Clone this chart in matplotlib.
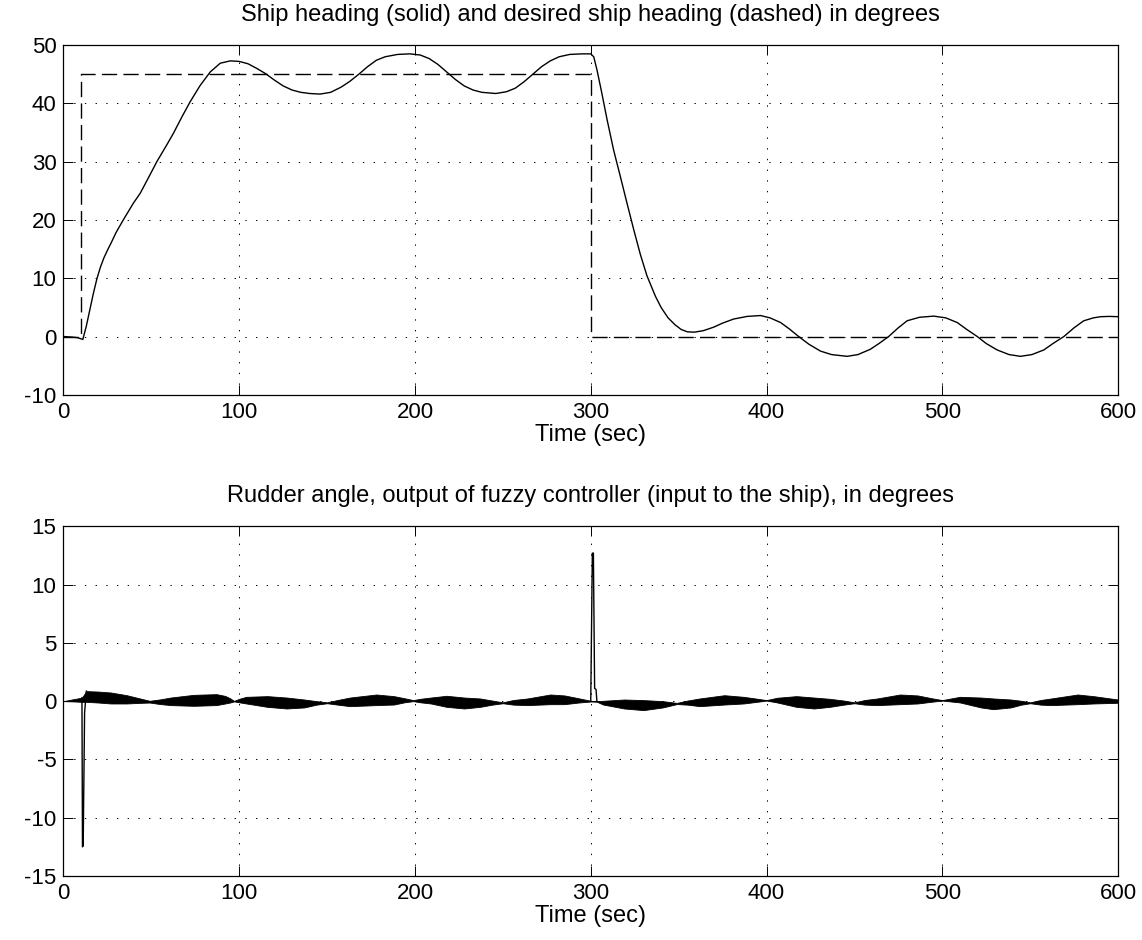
import matplotlib.pyplot as plt

plt.rcParams['font.family'] = ['Liberation Sans', 'DejaVu Sans']
plt.rcParams['axes.unicode_minus'] = False

# ship heading (deg)
heading_t = [0, 5, 8, 11, 13, 15, 17, 19, 21, 23, 25, 27, 30, 34.2, 39.8, 43.7, 49.3, 53.1,
             58.8, 62.6, 67.4, 72.1, 77.8, 83.5, 89.2, 95, 100, 105, 110, 115, 120, 125, 130, 135, 140, 146,
             152, 158, 163, 168, 173, 178, 183, 190, 197, 203, 208, 213, 218, 223, 228, 233, 238, 246, 252,
             257, 262, 267, 272, 277, 282, 288, 295, 300, 301.7, 303.5, 306, 309.3, 313, 316.8, 320.6, 324.4,
             328.2, 332, 336.8, 340, 344, 348, 351.5, 355, 359, 364, 369.9, 375, 381.3, 389, 396.6, 402, 408,
             413, 418.3, 424, 430.7, 437, 445.9, 452, 459, 464, 469.5, 475, 480, 487, 495.2, 502, 508.5, 514,
             519.9, 525, 531.2, 538, 544.5, 551, 557.8, 563, 569.2, 575, 580.5, 586, 590.1, 595, 600]
heading = [0, -0.1, -0.2, -0.5, 1.8, 4.6, 7.4, 9.9, 11.9, 13.5, 14.8, 16.0, 17.9, 20.1, 22.9, 24.6,
           27.8, 30.0, 32.9, 34.9, 37.7, 40.3, 43.1, 45.4, 46.9, 47.3, 47.2, 46.8, 46.0, 45.1, 44.0, 43.0, 42.3,
           41.9, 41.7, 41.6, 41.9, 42.8, 43.8, 45.0, 46.3, 47.4, 48.0, 48.4, 48.5, 48.3, 47.7, 46.7, 45.4, 44.1,
           43.0, 42.3, 41.9, 41.7, 42.0, 42.6, 43.7, 45.0, 46.3, 47.3, 48.0, 48.4, 48.5, 48.5, 48.0, 45.8,
           42.2, 37.2, 32.0, 27.5, 22.9, 18.4, 14.1, 10.4, 6.9, 5.0, 3.2, 2.0, 1.2, 0.8, 0.75, 1.0, 1.6, 2.3,
           3.0, 3.45, 3.6, 3.2, 2.4, 1.3, 0.0, -1.3, -2.5, -3.1, -3.4, -3.1, -2.2, -1.2, 0.0, 1.5, 2.7, 3.3,
           3.5, 3.2, 2.4, 1.2, 0.0, -1.2, -2.3, -3.1, -3.4, -3.1, -2.3, -1.2, 0.0, 1.5, 2.7, 3.2, 3.4, 3.45,
           3.4]

# desired heading (deg)
desired_t = [0, 10, 10, 300, 300, 600]
desired = [0, 0, 45, 45, 0, 0]

# rudder angle: envelope of the fast chattering band (deg)
band_t = [0, 5, 10.5, 13, 20, 27, 36, 43, 49, 55, 61, 74, 87, 92, 95, 97, 100, 104, 116, 127, 137, 144, 150,
          156, 163, 178, 188, 194, 199, 203, 209, 218, 228, 237, 244, 250, 256, 264, 277, 285, 293, 300,
          303.5, 307, 319, 330, 341, 349, 355, 362, 376, 387, 395, 400, 406, 417, 427, 436, 444, 450, 456,
          463, 476, 486, 494, 500, 510, 522, 529, 539, 545, 550, 556, 562, 577, 586, 600]
band_hi = [0.0, 0.15, 0.3, 0.86, 0.82, 0.74, 0.51, 0.25, 0.03, 0.15, 0.31, 0.54, 0.6, 0.45, 0.23, 0.02, 0.2,
           0.37, 0.43, 0.31, 0.14, 0.0, -0.1, 0.1, 0.31, 0.57, 0.43, 0.25, 0.09, 0.2, 0.31, 0.46, 0.31, 0.23,
           0.05, -0.1, 0.1, 0.23, 0.57, 0.49, 0.25, 0.03, 0.0, 0.03, 0.14, 0.09, 0.0, -0.15, 0.05, 0.23, 0.51,
           0.37, 0.2, 0.09, 0.29, 0.43, 0.31, 0.2, 0.05, -0.1, 0.1, 0.23, 0.57, 0.49, 0.25, 0.09, 0.37, 0.31,
           0.23, 0.14, 0.03, -0.1, 0.1, 0.23, 0.57, 0.43, 0.14]
band_lo = [0.0, -0.02, -0.06, -0.06, -0.12, -0.2, -0.2, -0.15, -0.12, -0.25, -0.34, -0.4, -0.34, -0.2, -0.11,
           -0.02, -0.1, -0.2, -0.49, -0.63, -0.54, -0.3, -0.18, -0.3, -0.43, -0.34, -0.29, -0.1, 0.0, -0.1,
           -0.2, -0.49, -0.63, -0.49, -0.3, -0.18, -0.3, -0.34, -0.26, -0.26, -0.12, -0.03, -0.05, -0.29,
           -0.63, -0.77, -0.54, -0.25, -0.3, -0.43, -0.29, -0.2, -0.05, 0.05, -0.11, -0.49, -0.63, -0.49,
           -0.3, -0.18, -0.3, -0.34, -0.26, -0.2, -0.05, 0.05, -0.11, -0.54, -0.69, -0.54, -0.3, -0.18, -0.3,
           -0.34, -0.26, -0.2, -0.14]

# the two big rudder kicks when the set point jumps
kick1_t = [10.5, 10.8, 11.2, 12.0, 13.0]
kick1 = [0.3, -12.5, -12.4, -1.0, 0.86]
kick2_t = [300.0, 300.9, 301.5, 302.2, 303.0, 303.5]
kick2 = [0.03, 12.7, 12.7, 1.1, 1.0, 0.0]

x_ticks = [0, 100, 200, 300, 400, 500, 600]


def style_axes(ax, ylim, yticks, title):
    ax.set_xlim(0, 600)
    ax.set_ylim(*ylim)
    ax.set_xticks(x_ticks)
    ax.set_yticks(yticks)
    ax.tick_params(direction='in', top=True, right=True, length=7, width=0.7, labelsize=16, pad=5)
    ax.grid(True, color='k', linestyle=(0, (1.4, 9.6)), linewidth=0.7)
    for sp in ax.spines.values():
        sp.set_linewidth(0.9)
    ax.set_title(title, fontsize=17, pad=17.5)
    ax.set_xlabel('Time (sec)', fontsize=17, labelpad=1)


fig = plt.figure(figsize=(11.42, 9.4), dpi=100)
ax1 = fig.add_axes([0.0556, 0.580, 0.9234, 0.372])
ax2 = fig.add_axes([0.0556, 0.0681, 0.9234, 0.372])

ax1.plot(heading_t, heading, color='k', linewidth=1.0)
ax1.plot(desired_t, desired, color='k', linewidth=1.0, linestyle=(0, (11, 4.5)))
style_axes(ax1, (-10, 50), [-10, 0, 10, 20, 30, 40, 50],
           'Ship heading (solid) and desired ship heading (dashed) in degrees')

ax2.fill_between(band_t, band_lo, band_hi, color='k', linewidth=0.6)
ax2.plot(kick1_t, kick1, color='k', linewidth=1.0)
ax2.plot(kick2_t, kick2, color='k', linewidth=1.0)
style_axes(ax2, (-15, 15), [-15, -10, -5, 0, 5, 10, 15],
           'Rudder angle, output of fuzzy controller (input to the ship), in degrees')

fig.savefig('out.png', dpi=100)
